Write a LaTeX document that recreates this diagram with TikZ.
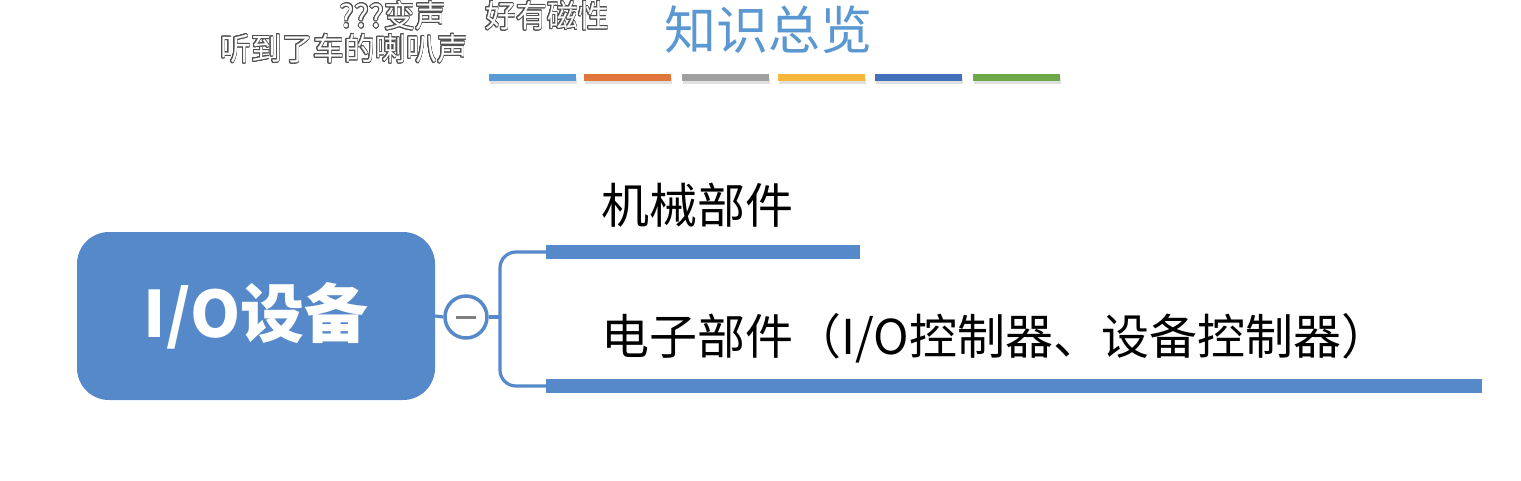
\documentclass[tikz,border=0pt]{standalone}
\usepackage{fontspec}
\newfontfamily\cjk{Noto Sans CJK SC}
\usepackage{contour}
\contourlength{0.7pt}
\contournumber{24}
\usetikzlibrary{positioning}
\definecolor{mainblue}{HTML}{5689C9}
\definecolor{titleblue}{HTML}{5B97D0}
\definecolor{cA}{HTML}{5B9BD5}
\definecolor{cB}{HTML}{E0763C}
\definecolor{cC}{HTML}{A0A0A0}
\definecolor{cD}{HTML}{F6B73A}
\definecolor{cE}{HTML}{4470BA}
\definecolor{cF}{HTML}{6EA64A}
\definecolor{danmu}{HTML}{505050}
\tikzset{
  colorbar/.style={draw=none, minimum width=87pt, minimum height=7pt, inner sep=0pt},
  shadowbar/.style={fill=black!12, draw=none, minimum width=87pt, minimum height=6pt, inner sep=0pt},
  branchbar/.style={fill=mainblue, draw=none, minimum height=14pt, inner sep=0pt},
  label/.style={font=\cjk\fontsize{48}{48}\selectfont, text=black, anchor=west, inner sep=0pt},
  danmaku/.style={font=\cjk\fontsize{31}{31}\selectfont, text=white, inner sep=0pt},
  conn/.style={draw=mainblue, line width=3.2pt}
}
\begin{document}
\begin{tikzpicture}[x=1pt,y=-1pt]
\useasboundingbox[fill=white] (0,0) rectangle (1521,480);
% danmaku
\node[danmaku] (d1) at (393,16) {\contour{danmu}{???变声}};
\node[danmaku] (d2) at (547,16) {\contour{danmu}{好有磁性}};
\node[danmaku] (d3) at (344,49) {\contour{danmu}{听到了车的喇叭声}};
% title
\node[font=\cjk\fontsize{52}{52}\selectfont, text=titleblue, inner sep=0pt] (title) at (768,30) {知识总览};
% colour bars with shadows
\foreach \x/\c [count=\i] in {532/cA, 627/cB, 725/cC, 821/cD, 918/cE, 1016/cF}{
  \node[shadowbar] (s\i) at (\x+1,81) {};
  \node[colorbar, fill=\c] (bar\i) at (\x,77) {};
}
% main node
\node[fill=mainblue, rounded corners=32pt, minimum width=358pt, minimum height=168pt, inner sep=0pt,
      text=white, font=\cjk\bfseries\fontsize{64}{64}\selectfont] (main) at (256,316) {I/O设备};
% collapse circle
\node[circle, draw=mainblue, line width=3.5pt, fill=white, minimum size=42pt, inner sep=0pt] (coll) at (466,317) {};
\draw[draw=black!50, line width=3pt] ([xshift=-10pt]coll.center) -- ([xshift=10pt]coll.center);
\draw[conn] (main.east) -- (coll.west);
% branch bars
\node[branchbar, minimum width=314pt] (b1) at (703,252) {};
\node[branchbar, minimum width=936pt] (b2) at (1014,386) {};
\coordinate (fork) at (500,317);
\draw[conn] (coll.east) -- (fork);
\draw[conn, rounded corners=16pt] (b1.west) -| (fork) |- (b2.west);
% labels
\node[label] (l1) at (601,205) {机械部件};
\node[label] (l2) at (601,338) {电子部件（I/O控制器、设备控制器）};
\end{tikzpicture}
\end{document}
